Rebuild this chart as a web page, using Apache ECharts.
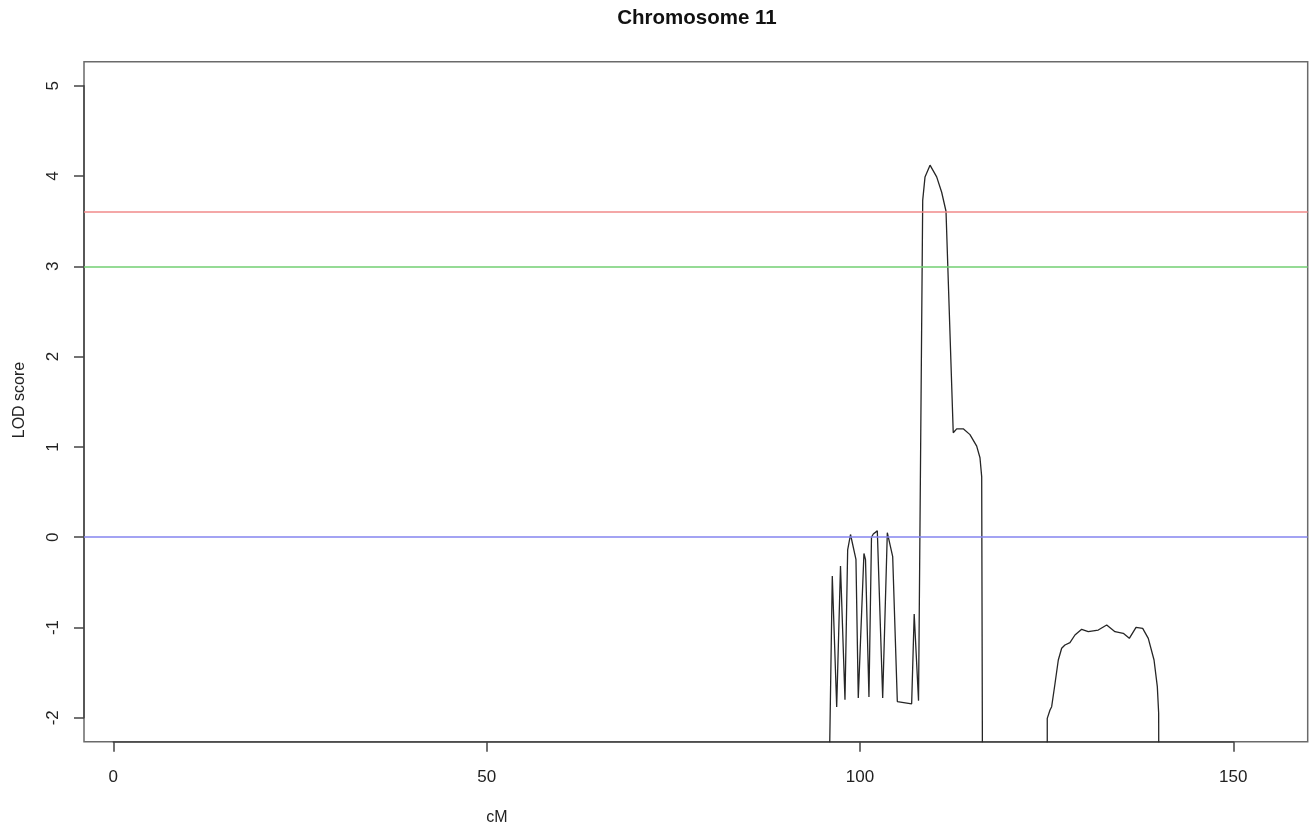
<!DOCTYPE html>
<html>
<head>
<meta charset="utf-8">
<script src="https://cdn.jsdelivr.net/npm/echarts@6/dist/echarts.min.js"></script>
<style>
  html, body { margin: 0; padding: 0; background: #ffffff; }
  #chart { width: 1314px; height: 831px; }
</style>
</head>
<body>
<div id="chart"></div>
<script>
// ---------------- data ----------------
const TITLE = 'Chromosome 11';
const X_NAME = 'cM';
const Y_NAME = 'LOD score';

// marker positions (cM) and LOD scores
const CM = [
  95.45, 96.29, 96.88, 97.39, 97.99, 98.35, 98.73, 99.46, 99.77, 100.53,
  100.74, 101.20, 101.54, 101.78, 102.32, 103.04, 103.66, 104.38, 105.00, 106.92,
  107.26, 107.84, 108.40, 108.71, 109.38, 110.27, 110.94, 111.52, 112.49, 112.95,
  113.83, 114.73, 115.63, 116.07, 116.30, 116.51,
  125.08, 125.08, 125.45, 125.67, 126.12, 126.56, 127.01, 127.45, 128.12, 128.79,
  129.69, 130.57, 131.91, 133.04, 134.15, 135.26, 136.07, 136.97, 137.86, 138.61,
  139.38, 139.82, 140.00, 140.08
];
const LOD = [
  -5.00, -0.43, -1.88, -0.32, -1.80, -0.14, 0.03, -0.245, -1.78, -0.18,
  -0.25, -1.77, 0.00, 0.035, 0.07, -1.78, 0.05, -0.216, -1.82, -1.845,
  -0.85, -1.81, 3.73, 3.99, 4.12, 3.99, 3.82, 3.61, 1.157, 1.20,
  1.20, 1.136, 1.008, 0.88, 0.668, -6.00,
  -5.00, -2.006, -1.914, -1.877, -1.62, -1.36, -1.23, -1.194, -1.168, -1.083,
  -1.02, -1.046, -1.028, -0.972, -1.046, -1.064, -1.12, -0.998, -1.009, -1.12,
  -1.36, -1.655, -1.95, -5.00
];

// horizontal reference lines (LOD thresholds)
const THRESHOLDS = [3.6, 3.0, 0];

// axis ticks
const X_TICKS = [0, 50, 100, 150];
const Y_TICKS = [-2, -1, 0, 1, 2, 3, 4, 5];

// ---------------- styles ----------------
const THRESH_COLORS = ['#f08a8a', '#72cf72', '#8585ef'];
const FONT = '"Liberation Sans", Arial, Helvetica, sans-serif';

// ---------------- chart ----------------
const chart = echarts.init(document.getElementById('chart'), null, { renderer: 'canvas' });

const xStep = X_TICKS[1] - X_TICKS[0];
const yStep = Y_TICKS[1] - Y_TICKS[0];

const option = {
  animation: false,
  backgroundColor: '#ffffff',
  grid: [
    // plot box (data region)
    { left: 84, right: 6.3, top: 61.7, bottom: 89.3, show: true,
      borderColor: '#6a6a6a', borderWidth: 1.5, backgroundColor: 'transparent' },
    // tick frame: from first to last tick
    { left: 113.3, right: 80.7, top: 85.7, bottom: 113.2, show: false }
  ],
  xAxis: [
    { gridIndex: 0, type: 'value', min: -3.924, max: 159.96, show: false },
    { gridIndex: 1, type: 'value', min: X_TICKS[0], max: X_TICKS[X_TICKS.length - 1],
      interval: xStep, offset: 23.9, position: 'bottom',
      axisLine: { show: true, onZero: false, lineStyle: { color: '#444', width: 1.5 } },
      axisTick: { show: true, inside: false, length: 10, lineStyle: { color: '#444', width: 1.5 } },
      axisLabel: { margin: 27, fontFamily: FONT, fontSize: 17, color: '#222' },
      splitLine: { show: false }
    }
  ],
  yAxis: [
    { gridIndex: 0, type: 'value', min: -2.2647, max: 5.266, show: false },
    { gridIndex: 1, type: 'value', min: Y_TICKS[0], max: Y_TICKS[Y_TICKS.length - 1],
      interval: yStep, offset: 29.3, position: 'left',
      axisLine: { show: true, onZero: false, lineStyle: { color: '#444', width: 1.5 } },
      axisTick: { show: true, inside: false, length: 10, lineStyle: { color: '#444', width: 1.5 } },
      axisLabel: { rotate: 90, margin: 22, fontFamily: FONT, fontSize: 17, color: '#222' },
      splitLine: { show: false }
    }
  ],
  graphic: [
    { type: 'text', x: 697, y: 18,
      style: { text: TITLE, font: 'bold 20.5px ' + FONT, fill: '#111', textAlign: 'center', textVerticalAlign: 'middle' } },
    { type: 'text', x: 497, y: 818,
      style: { text: X_NAME, font: '16px ' + FONT, fill: '#222', textAlign: 'center', textVerticalAlign: 'middle' } },
    { type: 'text', x: 20, y: 400, rotation: Math.PI / 2,
      style: { text: Y_NAME, font: '16px ' + FONT, fill: '#222', textAlign: 'center', textVerticalAlign: 'middle' } }
  ],
  series: [
    {
      type: 'line',
      xAxisIndex: 0, yAxisIndex: 0,
      data: [],
      showSymbol: false,
      markLine: {
        silent: true,
        symbol: ['none', 'none'],
        label: { show: false },
        data: THRESHOLDS.map((t, i) => ({ yAxis: t, lineStyle: { color: THRESH_COLORS[i], width: 1.5, type: 'solid' } }))
      }
    },
    {
      type: 'line',
      xAxisIndex: 0, yAxisIndex: 0,
      data: CM.map((x, i) => [x, LOD[i]]),
      showSymbol: false,
      symbol: 'none',
      clip: true,
      lineStyle: { color: '#262626', width: 1.3 },
      z: 3
    }
  ]
};

chart.setOption(option);
</script>
</body>
</html>
